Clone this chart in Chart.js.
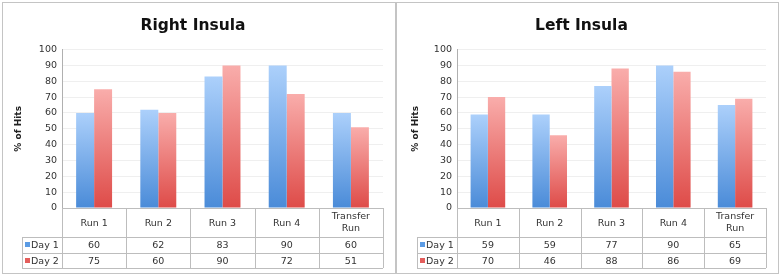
<!DOCTYPE html>
<html>
<head>
<meta charset="utf-8">
<script src="https://cdn.jsdelivr.net/npm/chart.js@4.4.0/dist/chart.umd.min.js"></script>
<style>
body { margin: 0; background: #fff; width: 780px; height: 276px; position: relative; overflow: hidden; }
.panel { position: absolute; top: 2px; height: 272px; border: 1px solid #c4c4c4; box-sizing: border-box; }
#p1 { left: 2px; width: 394px; }
#p2 { left: 396px; width: 383px; }
canvas { position: absolute; left: 0; top: 0; }
</style>
</head>
<body>
<div class="panel" id="p1"><canvas id="rightChart" width="392" height="270"></canvas></div>
<div class="panel" id="p2"><canvas id="leftChart" width="381" height="270"></canvas></div>
<script>
var runLabels = ['Run 1', 'Run 2', 'Run 3', 'Run 4', ['Transfer', 'Run']];
var seriesNames = ['Day 1', 'Day 2'];
var rightDay1 = [60, 62, 83, 90, 60];
var rightDay2 = [75, 60, 90, 72, 51];
var leftDay1 = [59, 59, 77, 90, 65];
var leftDay2 = [70, 46, 88, 86, 69];
var yMax = 100;
var yStep = 10;

var fontName = "'DejaVu Sans', sans-serif";
var lineColor = '#bdbdbd';
var blueTop = '#acd0fb', blueBottom = '#4a8bd8', blueKey = '#5b9be4';
var redTop = '#f9adab', redBottom = '#de4b48', redKey = '#e45e5c';

// each bar gets its own vertical gradient, light at the top
function barFill(top, bottom) {
	return function(c) {
		var chart = c.chart;
		var a = chart.chartArea;
		if (!a || c.parsed == null) {
			return bottom;
		}
		var y = chart.scales.y.getPixelForValue(c.parsed.y);
		var g = chart.ctx.createLinearGradient(0, y, 0, a.bottom);
		g.addColorStop(0, top);
		g.addColorStop(1, bottom);
		return g;
	};
}

function crisp(v) {
	return Math.round(v) + 0.5;
}

// data table under the plot, columns follow the x scale
var tablePlugin = {
	id: 'dataTable',
	afterDraw: function(chart) {
		var ctx = chart.ctx;
		var a = chart.chartArea;
		var xs = chart.scales.x;
		var labels = chart.data.labels;
		var sets = chart.data.datasets;
		var n = labels.length;
		var half = (xs.getPixelForValue(1) - xs.getPixelForValue(0)) / 2;
		var r0 = a.bottom, r1 = r0 + 29, r2 = r1 + 16, r3 = r2 + 15;
		var rows = [r1, r2, r3];
		var legLeft = a.left - 40;
		var i, j, cx;

		ctx.save();
		ctx.strokeStyle = lineColor;
		ctx.lineWidth = 1;
		ctx.beginPath();
		ctx.moveTo(a.left, crisp(r0));
		ctx.lineTo(a.right, crisp(r0));
		for (i = 0; i < rows.length; i++) {
			ctx.moveTo(legLeft, crisp(rows[i]));
			ctx.lineTo(a.right, crisp(rows[i]));
		}
		for (i = 0; i < n; i++) {
			cx = xs.getPixelForValue(i);
			ctx.moveTo(crisp(cx - half), r0);
			ctx.lineTo(crisp(cx - half), r3);
		}
		ctx.moveTo(crisp(xs.getPixelForValue(n - 1) + half), r0);
		ctx.lineTo(crisp(xs.getPixelForValue(n - 1) + half), r3);
		ctx.moveTo(crisp(legLeft), r1);
		ctx.lineTo(crisp(legLeft), r3);
		ctx.stroke();

		ctx.fillStyle = '#333';
		ctx.font = '9.5px ' + fontName;
		ctx.textAlign = 'center';
		ctx.textBaseline = 'middle';
		for (i = 0; i < n; i++) {
			cx = xs.getPixelForValue(i);
			var lab = labels[i];
			if (Array.isArray(lab)) {
				ctx.fillText(lab[0], cx, (r0 + r1) / 2 - 6);
				ctx.fillText(lab[1], cx, (r0 + r1) / 2 + 6);
			} else {
				ctx.fillText(lab, cx, (r0 + r1) / 2 + 1);
			}
			for (j = 0; j < sets.length; j++) {
				ctx.fillText(String(sets[j].data[i]), cx, (rows[j] + rows[j + 1]) / 2 + 1);
			}
		}

		ctx.textAlign = 'left';
		for (j = 0; j < sets.length; j++) {
			var my = (rows[j] + rows[j + 1]) / 2;
			ctx.fillStyle = sets[j].keyColor;
			ctx.fillRect(legLeft + 3, Math.round(my) - 3, 5, 5);
			ctx.fillStyle = '#333';
			ctx.fillText(sets[j].label, legLeft + 9, my + 1);
		}
		ctx.restore();
	}
};

function makeChart(id, title, day1, day2) {
	return new Chart(document.getElementById(id), {
		type: 'bar',
		data: {
			labels: runLabels,
			datasets: [
				{ label: seriesNames[0], data: day1, backgroundColor: barFill(blueTop, blueBottom), keyColor: blueKey },
				{ label: seriesNames[1], data: day2, backgroundColor: barFill(redTop, redBottom), keyColor: redKey }
			]
		},
		options: {
			responsive: false,
			animation: false,
			devicePixelRatio: 1,
			layout: { padding: { left: 0, right: 12, top: 0, bottom: 65 } },
			datasets: { bar: { categoryPercentage: 0.56, barPercentage: 1.0 } },
			plugins: {
				legend: { display: false },
				tooltip: { enabled: false },
				title: {
					display: true,
					text: title,
					color: '#111',
					font: { family: fontName, size: 15.5, weight: 'bold' },
					padding: { top: 14, bottom: 14 }
				}
			},
			scales: {
				x: { display: false },
				y: {
					min: 0,
					max: yMax,
					afterFit: function(s) { s.width = (id === 'rightChart') ? 59 : 60; },
					ticks: { stepSize: yStep, color: '#333', padding: 5, font: { family: fontName, size: 9.5 } },
					grid: { color: '#efefef', drawTicks: false },
					border: { color: '#b0b0b0' },
					title: {
						display: true,
						text: '% of Hits',
						color: '#222',
						font: { family: fontName, size: 9, weight: 'bold' },
						padding: { top: (id === 'rightChart') ? 10 : 13, bottom: 0 }
					}
				}
			}
		},
		plugins: [tablePlugin]
	});
}

var rightInsula = makeChart('rightChart', 'Right Insula', rightDay1, rightDay2);
var leftInsula = makeChart('leftChart', 'Left Insula', leftDay1, leftDay2);
</script>
</body>
</html>
